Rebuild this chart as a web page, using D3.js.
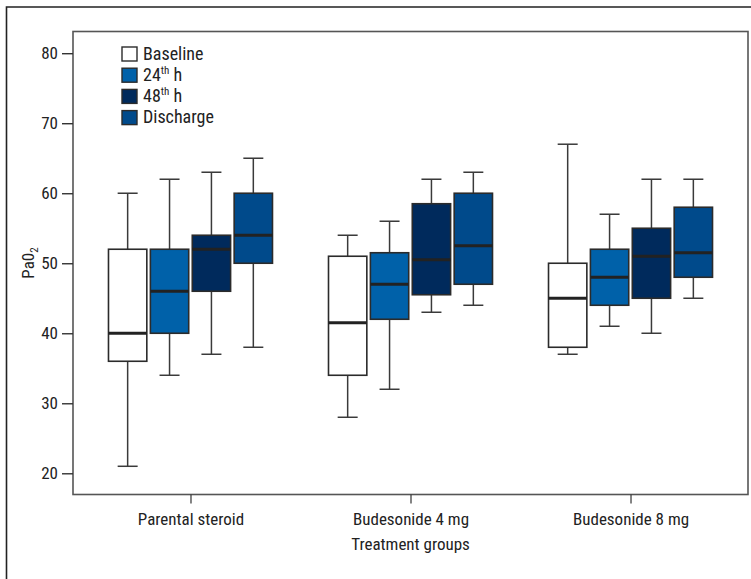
<!DOCTYPE html>
<html>
<head>
<meta charset="utf-8">
<script src="https://cdn.jsdelivr.net/npm/d3@7"></script>
<style>
  body { margin: 0; background: #fff; }
  text { font-family: "Liberation Sans Narrow", "Roboto Condensed", "DejaVu Sans Condensed", sans-serif; fill: #222; }
</style>
</head>
<body>
<div id="chart"></div>
<script>
var w = 751;
var h = 579;

// treatment groups on the x axis
var groups = ["Parental steroid", "Budesonide 4 mg", "Budesonide 8 mg"];
var series = ["Baseline", "24th h", "48th h", "Discharge"];
var colors = ["#ffffff", "#0061a9", "#002a5c", "#004a8b"];
var yTicks = [20, 30, 40, 50, 60, 70, 80];

// [min, q1, median, q3, max] per group
var baseline = [[21, 36, 40, 52, 60], [28, 34, 41.5, 51, 54], [37, 38, 45, 50, 67]];
var h24 = [[34, 40, 46, 52, 62], [32, 42, 47, 51.5, 56], [41, 44, 48, 52, 57]];
var h48 = [[37, 46, 52, 54, 63], [43, 45.5, 50.5, 58.5, 62], [40, 45, 51, 55, 62]];
var discharge = [[38, 50, 54, 60, 65], [44, 47, 52.5, 60, 63], [45, 48, 51.5, 58, 62]];

var allSeries = [baseline, h24, h48, discharge];

var pl = 73, pr = 748, pt = 31.5, pb = 494.5;

var svg = d3.select("#chart").append("svg").attr("width", w).attr("height", h);

// outer frame (only top and left edges show)
svg.append("path")
  .attr("d", "M6.5," + h + "V7H" + (w + 5))
  .attr("fill", "none")
  .attr("stroke", "#222")
  .attr("stroke-width", 1.6);

var x = d3.scalePoint().domain(groups).range([pl, pr]).padding(0.534);
var xInner = d3.scaleBand().domain(series).range([-82, 82]).paddingInner(0.085);
var y = d3.scaleLinear().domain([16.97, 83.1]).range([pb, pt]);

// plot frame
svg.append("rect")
  .attr("x", pl).attr("y", pt)
  .attr("width", pr - pl).attr("height", pb - pt)
  .attr("fill", "none")
  .attr("stroke", "#555")
  .attr("stroke-width", 1.6);

// Axes
var yAxis = d3.axisLeft(y).tickValues(yTicks).tickSize(11).tickPadding(4);
var gy = svg.append("g").attr("transform", "translate(" + pl + ",0)").call(yAxis);
gy.select(".domain").remove();
gy.selectAll(".tick line").attr("stroke", "#333").attr("stroke-width", 1.4);
gy.selectAll(".tick text").attr("font-size", "17px").attr("fill", "#222");

var xAxis = d3.axisBottom(x).tickSize(9).tickPadding(9);
var gx = svg.append("g").attr("transform", "translate(0," + pb + ")").call(xAxis);
gx.select(".domain").remove();
gx.selectAll(".tick line").attr("stroke", "#333").attr("stroke-width", 1.2);
gx.selectAll(".tick text").attr("font-size", "17px").attr("fill", "#222");
svg.selectAll(".tick text").attr("font-family", null);
svg.selectAll("g").attr("font-family", null);

// axis titles
svg.append("text")
  .attr("x", x(groups[1]))
  .attr("y", 550)
  .attr("text-anchor", "middle")
  .attr("font-size", "17px")
  .text("Treatment groups");

var yt = svg.append("text")
  .attr("transform", "translate(34,263) rotate(-90)")
  .attr("text-anchor", "middle")
  .attr("font-size", "17px");
yt.append("tspan").text("Pa0");
yt.append("tspan").attr("font-size", "11px").attr("dy", 4).text("2");

// boxes
series.forEach(function (s, si) {
  var g = svg.append("g");
  var data = allSeries[si];
  var bw = xInner.bandwidth();
  var cx = function (d, i) { return x(groups[i]) + xInner(s) + bw / 2; };

  // whiskers
  g.selectAll(".wh").data(data).enter().append("line")
    .attr("x1", cx).attr("x2", cx)
    .attr("y1", function (d) { return y(d[0]); })
    .attr("y2", function (d) { return y(d[4]); })
    .attr("stroke", "#3a3a3a").attr("stroke-width", 1.5);

  [0, 4].forEach(function (k) {
    g.selectAll(".cap" + k).data(data).enter().append("line")
      .attr("x1", function (d, i) { return cx(d, i) - 10; })
      .attr("x2", function (d, i) { return cx(d, i) + 10; })
      .attr("y1", function (d) { return y(d[k]); })
      .attr("y2", function (d) { return y(d[k]); })
      .attr("stroke", "#3a3a3a").attr("stroke-width", 1.5);
  });

  g.selectAll("rect").data(data).enter().append("rect")
    .attr("x", function (d, i) { return x(groups[i]) + xInner(s); })
    .attr("y", function (d) { return y(d[3]); })
    .attr("width", bw)
    .attr("height", function (d) { return y(d[1]) - y(d[3]); })
    .attr("fill", colors[si])
    .attr("stroke", "#2b2b2b")
    .attr("stroke-width", 1.6);

  g.selectAll(".med").data(data).enter().append("line")
    .attr("x1", function (d, i) { return x(groups[i]) + xInner(s); })
    .attr("x2", function (d, i) { return x(groups[i]) + xInner(s) + bw; })
    .attr("y1", function (d) { return y(d[2]); })
    .attr("y2", function (d) { return y(d[2]); })
    .attr("stroke", "#222").attr("stroke-width", 3);
});

// legend
var legend = svg.append("g").attr("transform", "translate(122,47)");
series.forEach(function (s, i) {
  var row = legend.append("g").attr("transform", "translate(0," + i * 21.2 + ")");
  row.append("rect")
    .attr("width", 15).attr("height", 14)
    .attr("fill", colors[i])
    .attr("stroke", "#2b2b2b").attr("stroke-width", 1.4);
  var t = row.append("text").attr("x", 21).attr("y", 12.5).attr("font-size", "18px");
  var m = s.match(/^(\d+)(th)(.*)$/);
  if (m) {
    t.append("tspan").text(m[1]);
    t.append("tspan").attr("font-size", "11px").attr("dy", -7).text(m[2]);
    t.append("tspan").attr("dy", 7).text(m[3]);
  } else {
    t.text(s);
  }
});
</script>
</body>
</html>
